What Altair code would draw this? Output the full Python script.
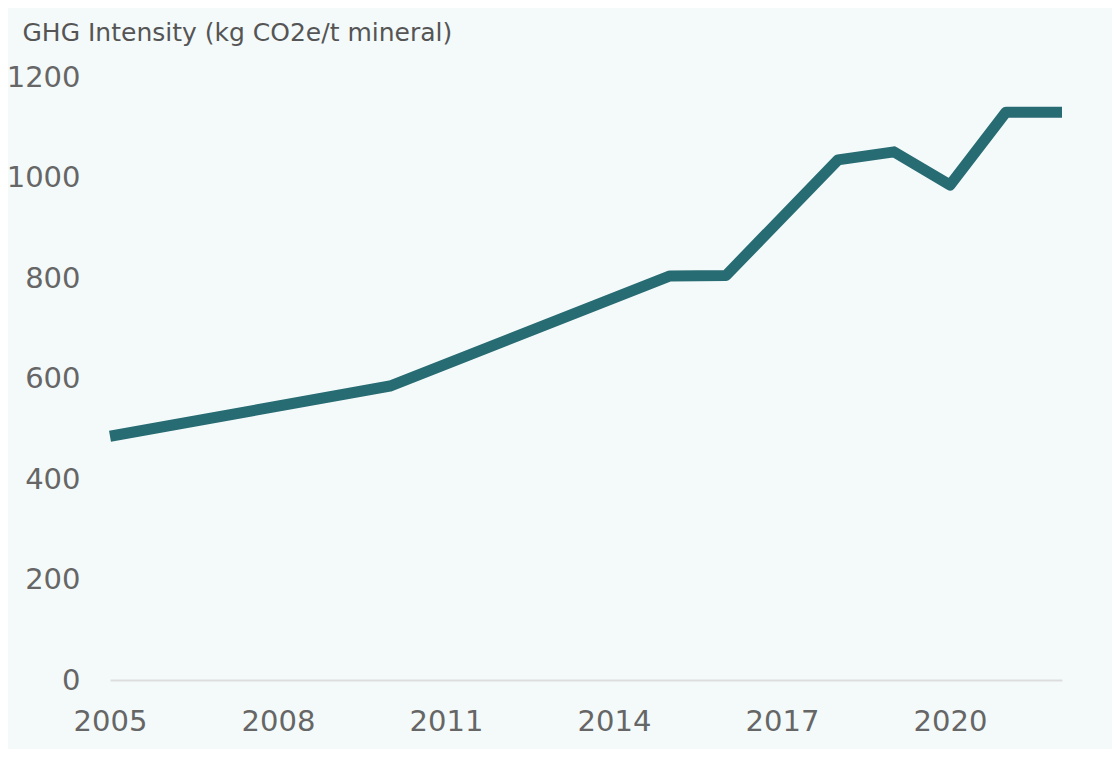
import altair as alt
import pandas as pd

years = [2005, 2010, 2015, 2016, 2018, 2019, 2020, 2021, 2022]
intensity = [485, 585, 804, 805, 1035, 1051, 985, 1130, 1130]
x_ticks = [2005, 2008, 2011, 2014, 2017, 2020]
y_ticks = [0, 200, 400, 600, 800, 1000, 1200]

df = pd.DataFrame({"year": years, "value": intensity})

font = "DejaVu Sans"

chart = alt.Chart(df).mark_line(
    color="#276b73", strokeWidth=11, strokeCap="butt", strokeJoin="round"
).encode(
    x=alt.X("year:Q", scale=alt.Scale(domain=[2005, 2022], nice=False, zero=False),
            axis=alt.Axis(values=x_ticks, format="d", title=None, grid=False, ticks=False,
                          domain=True, domainColor="#dddddd", domainWidth=2,
                          labelFontSize=29, labelColor="#666666", labelFont=font,
                          labelPadding=41, labelBaseline="middle", labelFlush=False)),
    y=alt.Y("value:Q", scale=alt.Scale(domain=[0, 1200], nice=False),
            axis=alt.Axis(values=y_ticks, format="d", title="GHG Intensity (kg CO2e/t mineral)",
                          grid=False, ticks=False, domain=False,
                          labelFontSize=29, labelColor="#666666", labelFont=font,
                          labelPadding=30, labelFontWeight="normal",
                          titleAngle=0, titleAlign="left", titleBaseline="alphabetic",
                          titleX=-88, titleY=-37, titleFontSize=25, titleFont=font,
                          titleFontWeight="normal", titleColor="#555555")),
).properties(
    width=952, height=603,
    autosize=alt.AutoSizeParams(type="none"),
    padding={"left": 102, "top": 69, "right": 50, "bottom": 69},
    background="#f4fafa",
).configure_view(stroke=None)

chart.save("out.html", embed_options={"renderer": "svg", "actions": False})
